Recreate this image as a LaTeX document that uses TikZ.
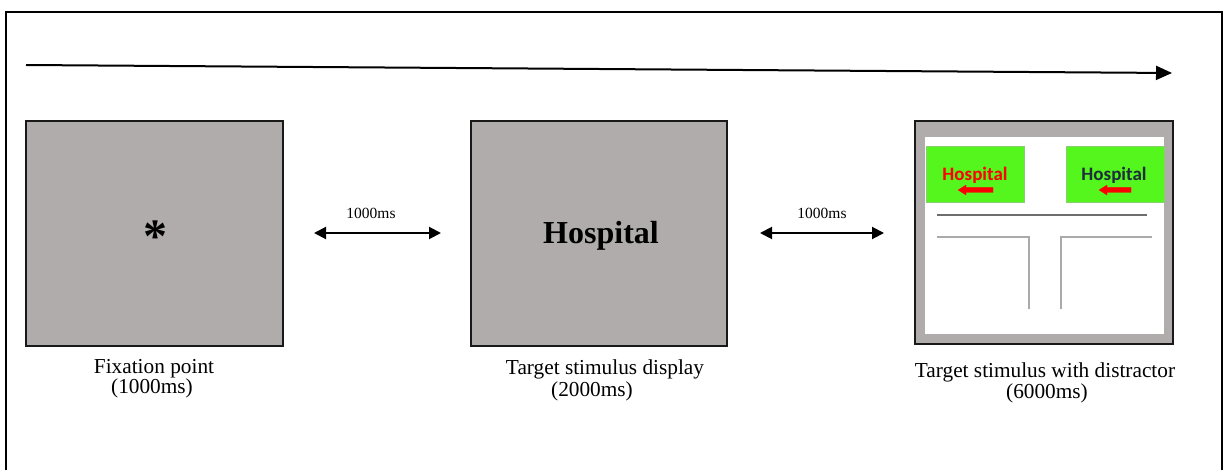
\documentclass[tikz,border=0pt]{standalone}
\usepackage{fontspec}
\setmainfont{Liberation Serif}
\newfontfamily\calib{Carlito}
\usetikzlibrary{arrows.meta}
\definecolor{scrgray}{RGB}{176,172,171}
\definecolor{signgreen}{RGB}{85,245,30}
\definecolor{signdark}{RGB}{30,45,60}
\definecolor{roaddark}{RGB}{110,110,110}
\definecolor{roadlight}{RGB}{170,170,170}
\tikzset{
  screen/.style={draw=black!90,line width=2.5pt,fill=scrgray},
  sign/.style={fill=signgreen,draw=signgreen!70!black!60,line width=0.4pt},
  caption/.style={font=\fontsize{21.3}{24}\selectfont,align=center},
  durlabel/.style={font=\fontsize{15.5}{17}\selectfont},
  durarrow/.style={line width=2pt,{Triangle[length=12pt,width=12pt]}-{Triangle[length=12pt,width=12pt]}},
  signtext/.style={font=\calib\bfseries\fontsize{19}{21}\selectfont},
  signarrow/.style={draw=red,fill=red,line width=0.2pt},
}
\begin{document}
\begin{tikzpicture}[x=1pt,y=-1pt]
\useasboundingbox (0,0) rectangle (1230,470);
\begin{scope}
\clip (0,0) rectangle (1230,470);
\draw[line width=2pt] (6,490) -- (6,12) -- (1222,12) -- (1222,490);
\end{scope}
% timeline
\coordinate (tl0) at (26,65);
\coordinate (tl1) at (1172,73);
\draw[line width=2pt,-{Triangle[length=16pt,width=14pt]}] (tl0) -- (tl1);
% screens
\node[screen,minimum width=257pt,minimum height=225pt,inner sep=0pt] (s1) at (154.5,233.5) {};
\node[screen,minimum width=256pt,minimum height=225pt,inner sep=0pt] (s2) at (599,233.5) {};
\node[screen,minimum width=258pt,minimum height=223pt,inner sep=0pt] (s3) at (1044,232.5) {};
% fixation asterisk
\node[anchor=base,font=\bfseries\fontsize{48}{48}\selectfont,inner sep=0pt] (fix) at (155,252) {*};
% target word
\node[font=\bfseries\fontsize{32}{34}\selectfont,inner sep=0pt] (word) at (601,236) {Hospital};
% third screen content
\fill[white] (925,137) rectangle (1164,334);
\node[sign,minimum width=98pt,minimum height=56pt,inner sep=0pt] (g1) at (975,174) {};
\node[sign,minimum width=98pt,minimum height=56pt,inner sep=0pt] (g2) at (1115,174) {};
\node[signtext,text=red,inner sep=0pt] (h1) at (975,175) {Hospital};
\node[signtext,text=signdark,inner sep=0pt] (h2) at (1114,175) {Hospital};
\filldraw[signarrow] (993,187.5) -- (966,187.5) -- (966,185) -- (958,190) -- (966,195) -- (966,192.5) -- (993,192.5) -- cycle;
\filldraw[signarrow] (1131,187.5) -- (1107,187.5) -- (1107,185) -- (1099,190) -- (1107,195) -- (1107,192.5) -- (1131,192.5) -- cycle;
\draw[roaddark,line width=1.2pt] (937,215) -- (1147,215);
\draw[roadlight,line width=1.4pt] (937,237) -- (1029,237) -- (1029,309);
\draw[roadlight,line width=1.4pt] (1152,237) -- (1061,237) -- (1061,309);
% interval arrows
\coordinate (a1l) at (314,233);
\coordinate (a1r) at (441,233);
\coordinate (a2l) at (760,233);
\coordinate (a2r) at (884,233);
\draw[durarrow] (a1l) -- (a1r);
\draw[durarrow] (a2l) -- (a2r);
\node[durlabel] (d1) at (371,213) {1000ms};
\node[durlabel] (d2) at (822,213) {1000ms};
% captions
\node[caption] (c1) at (154,369) {Fixation point};
\node[caption] (c1b) at (152,388) {(1000ms)};
\node[caption] (c2) at (605,369) {Target stimulus display};
\node[caption] (c2b) at (592,391) {(2000ms)};
\node[caption] (c3) at (1045,372) {Target stimulus with distractor};
\node[caption] (c3b) at (1047,393) {(6000ms)};
\end{tikzpicture}
\end{document}
